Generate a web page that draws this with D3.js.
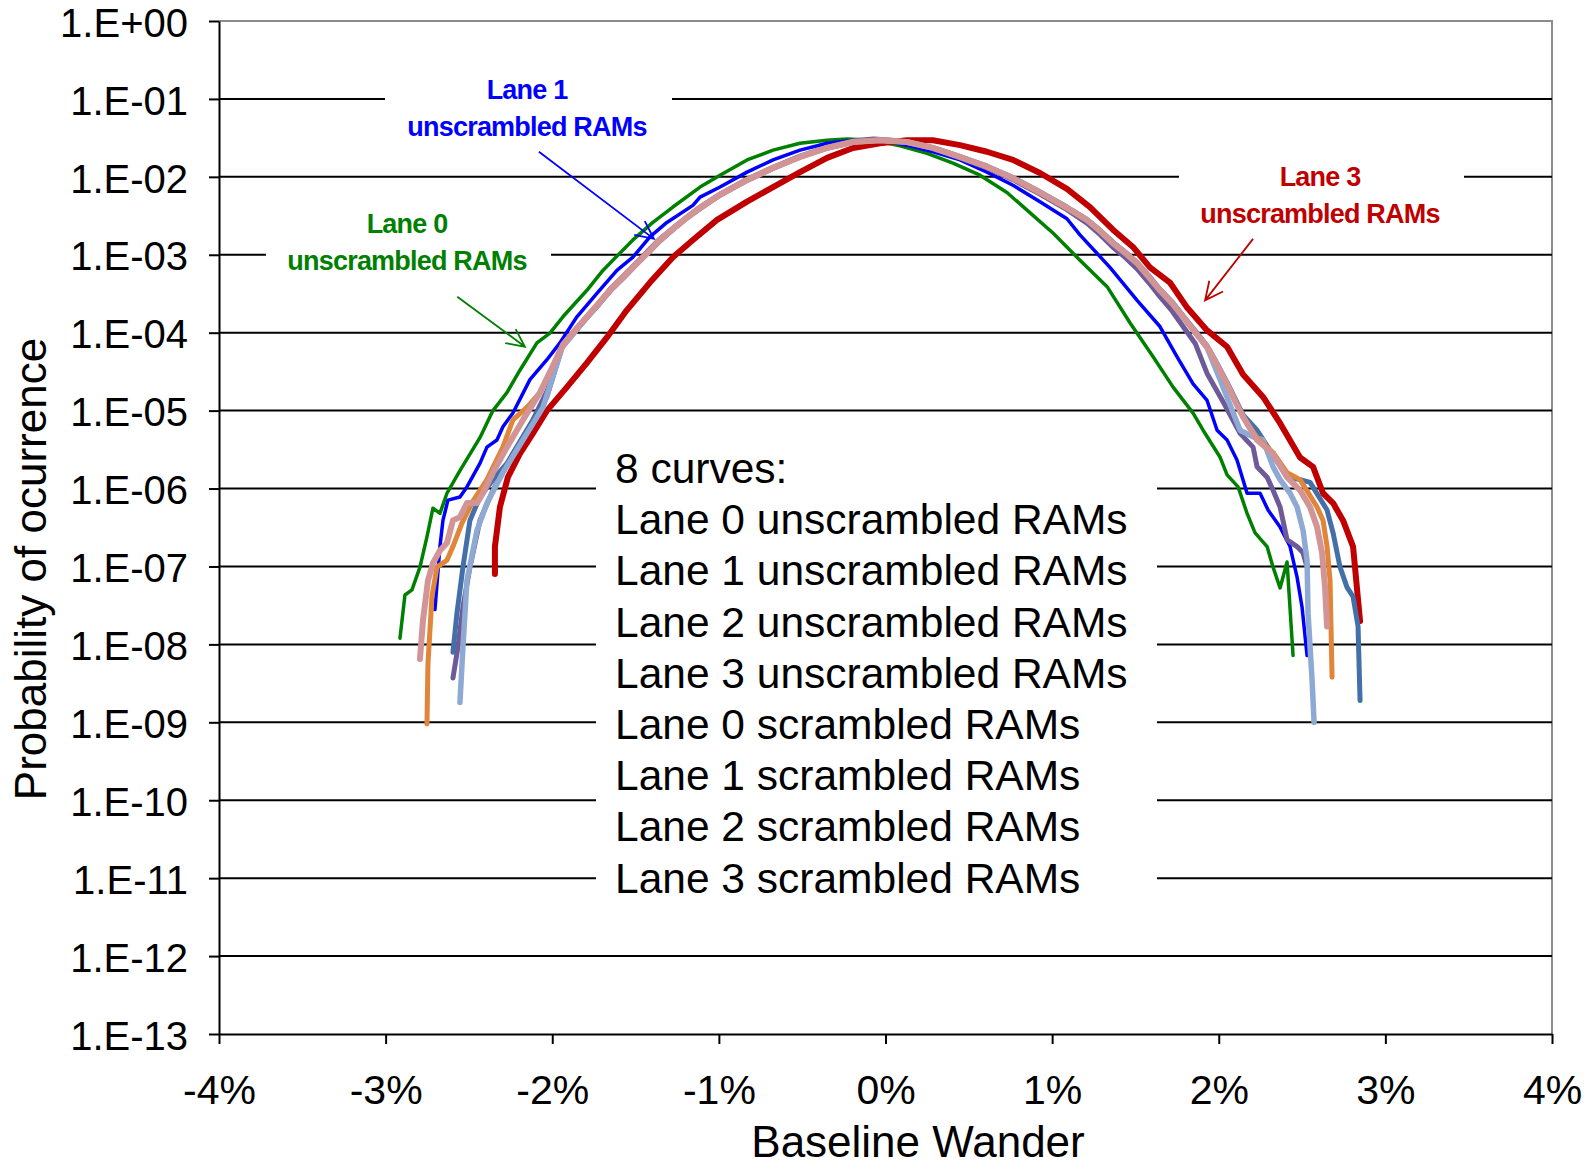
<!DOCTYPE html>
<html>
<head>
<meta charset="utf-8">
<script src="https://cdn.jsdelivr.net/npm/d3@7"></script>
<style>
  body { margin: 0; background: #fff; }
  svg { display: block; font-family: "Liberation Sans", Arial, sans-serif; }
</style>
</head>
<body>
<svg id="chart"></svg>
<script>
// x in percent of baseline wander, y = probability of occurrence
const xTicks = [-4, -3, -2, -1, 0, 1, 2, 3, 4];
const yTicks = [1e0, 1e-1, 1e-2, 1e-3, 1e-4, 1e-5, 1e-6, 1e-7, 1e-8, 1e-9, 1e-10, 1e-11, 1e-12, 1e-13];
const yTickLabels = ["1.E+00", "1.E-01", "1.E-02", "1.E-03", "1.E-04", "1.E-05", "1.E-06",
  "1.E-07", "1.E-08", "1.E-09", "1.E-10", "1.E-11", "1.E-12", "1.E-13"];

const legendLines = ["8 curves:", "Lane 0 unscrambled RAMs", "Lane 1 unscrambled RAMs",
  "Lane 2 unscrambled RAMs", "Lane 3 unscrambled RAMs", "Lane 0 scrambled RAMs",
  "Lane 1 scrambled RAMs", "Lane 2 scrambled RAMs", "Lane 3 scrambled RAMs"];

const lane0Unscrambled = [
  [-2.914, 1.2e-8], [-2.884, 4.3e-8], [-2.842, 5.0e-8], [-2.794, 9.8e-8], [-2.752, 2.4e-7],
  [-2.716, 5.6e-7], [-2.674, 4.8e-7], [-2.632, 8.7e-7], [-2.554, 1.7e-6], [-2.434, 4.5e-6],
  [-2.356, 1.0e-5], [-2.272, 1.7e-5], [-2.194, 3.3e-5], [-2.092, 7.4e-5], [-2.014, 9.9e-5],
  [-1.936, 1.6e-4], [-1.792, 3.5e-4], [-1.696, 6.3e-4], [-1.594, 1.05e-3], [-1.516, 1.55e-3],
  [-1.396, 2.6e-3], [-1.276, 4.1e-3], [-1.113, 7.4e-3], [-0.993, 1.05e-2], [-0.831, 1.65e-2],
  [-0.675, 2.2e-2], [-0.513, 2.7e-2], [-0.351, 2.95e-2], [-0.231, 3.05e-2], [-0.075, 2.95e-2],
  [0.087, 2.5e-2], [0.249, 2.0e-2], [0.405, 1.5e-2], [0.567, 1.05e-2], [0.729, 6.3e-3],
  [0.885, 3.2e-3], [1.005, 1.9e-3], [1.167, 8.5e-4], [1.33, 3.9e-4],
  [1.468, 1.33e-4], [1.606, 4.9e-5], [1.726, 2.0e-5], [1.846, 9.3e-6], [1.906, 5.6e-6],
  [2.009, 2.5e-6], [2.05, 1.5e-6], [2.116, 1.05e-6], [2.17, 4.8e-7], [2.218, 2.7e-7],
  [2.29, 1.8e-7], [2.326, 9.8e-8], [2.368, 5.3e-8], [2.41, 1.14e-7], [2.446, 7.2e-9]
];

const lane1Unscrambled = [
  [-2.704, 2.8e-8], [-2.674, 1.8e-7], [-2.656, 3.9e-7], [-2.626, 7.1e-7], [-2.554, 7.8e-7],
  [-2.512, 1.05e-6], [-2.434, 2.1e-6], [-2.392, 3.4e-6], [-2.332, 4.2e-6], [-2.296, 6.2e-6],
  [-2.236, 9.3e-6], [-2.134, 2.5e-5], [-2.032, 4.5e-5], [-1.954, 7.4e-5], [-1.852, 1.6e-4],
  [-1.732, 3.2e-4], [-1.612, 6.3e-4], [-1.516, 9.3e-4], [-1.414, 1.7e-3], [-1.312, 2.6e-3],
  [-1.156, 4.3e-3], [-1.113, 5.5e-3], [-0.993, 7.4e-3], [-0.831, 1.15e-2], [-0.675, 1.65e-2],
  [-0.513, 2.2e-2], [-0.351, 2.7e-2], [-0.195, 2.95e-2], [-0.033, 2.95e-2], [0.129, 2.55e-2],
  [0.285, 2.1e-2], [0.447, 1.65e-2], [0.609, 1.15e-2], [0.765, 7.8e-3], [0.927, 4.8e-3],
  [1.089, 2.9e-3], [1.167, 1.8e-3], [1.347, 6.9e-4], [1.51, 2.6e-4], [1.647, 1.2e-4],
  [1.75, 4.9e-5], [1.846, 2.2e-5], [1.93, 1.35e-5], [1.99, 5.6e-6], [2.05, 4.2e-6],
  [2.11, 2.3e-6], [2.17, 8.7e-7], [2.248, 8.7e-7], [2.296, 5.3e-7], [2.368, 3.2e-7],
  [2.428, 1.8e-7], [2.47, 7.3e-8], [2.50, 3.0e-8], [2.53, 7.2e-9]
];

const lane2Unscrambled = [
  [-2.596, 3.7e-9], [-2.566, 9.2e-9], [-2.536, 3.0e-8], [-2.494, 9.8e-8], [-2.434, 3.9e-7],
  [-2.356, 9.5e-7], [-2.236, 2.8e-6], [-2.116, 7.6e-6], [-2.03, 1.8e-5], [-1.94, 6.8e-5],
  [-1.86, 1.1e-4], [-1.792, 1.6e-4], [-1.72, 2.4e-4], [-1.654, 3.6e-4], [-1.57, 5.4e-4],
  [-1.492, 8.0e-4], [-1.42, 1.15e-3], [-1.354, 1.6e-3], [-1.27, 2.25e-3], [-1.192, 3.05e-3],
  [-1.113, 4.1e-3], [-0.993, 6.0e-3], [-0.831, 9.3e-3], [-0.675, 1.33e-2], [-0.513, 1.85e-2],
  [-0.351, 2.4e-2], [-0.195, 2.9e-2], [-0.07, 3.05e-2], [0.04, 2.95e-2], [0.129, 2.75e-2],
  [0.285, 2.3e-2], [0.447, 1.75e-2], [0.609, 1.3e-2], [0.765, 9.2e-3], [0.927, 6.0e-3],
  [1.089, 3.8e-3], [1.209, 2.55e-3], [1.29, 1.8e-3], [1.365, 1.25e-3], [1.44, 9.2e-4],
  [1.51, 6.6e-4], [1.58, 4.4e-4], [1.647, 2.9e-4], [1.72, 1.9e-4], [1.786, 1.2e-4],
  [1.86, 7.2e-5], [1.93, 3.0e-5], [2.026, 1.3e-5], [2.128, 5.1e-6], [2.206, 3.4e-6],
  [2.23, 1.9e-6], [2.29, 1.4e-6], [2.326, 9.5e-7], [2.368, 5.8e-7], [2.41, 2.2e-7],
  [2.47, 1.8e-7], [2.506, 1.5e-7], [2.53, 9.8e-8]
];

const lane3Unscrambled = [
  [-2.344, 8.0e-8], [-2.344, 1.8e-7], [-2.314, 5.8e-7], [-2.266, 1.4e-6], [-2.194, 2.8e-6],
  [-2.116, 5.1e-6], [-2.032, 1.0e-5], [-1.912, 2.0e-5], [-1.792, 4.1e-5], [-1.672, 8.7e-5],
  [-1.552, 1.95e-4], [-1.414, 4.4e-4], [-1.276, 9.3e-4], [-1.156, 1.55e-3], [-1.011, 2.8e-3],
  [-0.831, 4.8e-3], [-0.675, 7.4e-3], [-0.513, 1.15e-2], [-0.351, 1.75e-2], [-0.195, 2.35e-2],
  [-0.033, 2.7e-2], [0.129, 2.95e-2], [0.285, 2.95e-2], [0.447, 2.55e-2], [0.609, 2.1e-2],
  [0.765, 1.65e-2], [0.927, 1.12e-2], [1.089, 7.0e-3], [1.227, 4.1e-3],
  [1.365, 2.1e-3], [1.485, 1.26e-3], [1.587, 6.9e-4], [1.707, 4.4e-4], [1.81, 2.1e-4],
  [1.93, 1.07e-4], [2.05, 6.6e-5], [2.146, 2.9e-5], [2.266, 1.5e-5], [2.368, 6.9e-6],
  [2.488, 2.5e-6], [2.566, 1.9e-6], [2.626, 8.7e-7], [2.686, 6.5e-7], [2.746, 3.9e-7],
  [2.806, 1.8e-7], [2.848, 2.0e-8]
];

const lane0Scrambled = [
  [-2.596, 7.9e-9], [-2.572, 2.5e-8], [-2.536, 9.8e-8], [-2.494, 3.9e-7], [-2.434, 7.8e-7],
  [-2.356, 1.3e-6], [-2.272, 2.1e-6], [-2.152, 5.6e-6], [-2.032, 1.5e-5], [-1.94, 6.6e-5],
  [-1.86, 1.05e-4], [-1.792, 1.55e-4], [-1.72, 2.3e-4], [-1.654, 3.4e-4], [-1.57, 5.1e-4],
  [-1.492, 7.6e-4], [-1.42, 1.08e-3], [-1.354, 1.5e-3], [-1.27, 2.15e-3], [-1.192, 2.95e-3],
  [-1.113, 3.9e-3], [-0.993, 5.8e-3], [-0.831, 9.0e-3], [-0.675, 1.28e-2], [-0.513, 1.8e-2],
  [-0.351, 2.33e-2], [-0.195, 2.8e-2], [-0.033, 2.95e-2], [0.129, 2.8e-2], [0.285, 2.37e-2],
  [0.447, 1.82e-2], [0.609, 1.37e-2], [0.765, 9.8e-3], [0.927, 6.4e-3], [1.089, 4.1e-3],
  [1.209, 2.85e-3], [1.29, 2.05e-3], [1.365, 1.45e-3], [1.44, 1.08e-3], [1.51, 8.0e-4],
  [1.58, 5.4e-4], [1.647, 3.6e-4], [1.72, 2.5e-4], [1.786, 1.65e-4], [1.86, 1.05e-4],
  [1.93, 6.8e-5], [1.99, 4.0e-5], [2.05, 2.3e-5], [2.146, 8.8e-6], [2.23, 5.6e-6],
  [2.33, 2.6e-6], [2.41, 1.4e-6], [2.488, 1.3e-6], [2.548, 1.2e-6], [2.65, 5.3e-7],
  [2.686, 2.7e-7], [2.728, 9.8e-8], [2.77, 5.4e-8], [2.806, 4.1e-8], [2.836, 1.7e-8],
  [2.848, 1.9e-9]
];

const lane1Scrambled = [
  [-2.554, 1.8e-9], [-2.536, 9.2e-9], [-2.512, 6.6e-8], [-2.452, 2.9e-7], [-2.392, 6.5e-7],
  [-2.296, 1.6e-6], [-2.176, 4.2e-6], [-2.056, 1.1e-5], [-1.94, 6.5e-5], [-1.86, 1.05e-4],
  [-1.792, 1.6e-4], [-1.72, 2.35e-4], [-1.654, 3.5e-4], [-1.57, 5.2e-4], [-1.492, 7.7e-4],
  [-1.42, 1.1e-3], [-1.354, 1.55e-3], [-1.27, 2.2e-3], [-1.192, 3.0e-3], [-1.113, 4.0e-3],
  [-0.993, 5.9e-3], [-0.831, 9.1e-3], [-0.675, 1.3e-2], [-0.513, 1.8e-2], [-0.351, 2.35e-2],
  [-0.195, 2.8e-2], [-0.033, 2.95e-2], [0.129, 2.8e-2], [0.285, 2.36e-2], [0.447, 1.81e-2],
  [0.609, 1.36e-2], [0.765, 9.7e-3], [0.927, 6.4e-3], [1.089, 4.0e-3], [1.209, 2.8e-3],
  [1.29, 2.0e-3], [1.365, 1.42e-3], [1.44, 1.05e-3], [1.51, 7.8e-4], [1.58, 5.2e-4],
  [1.647, 3.5e-4], [1.72, 2.4e-4], [1.786, 1.6e-4], [1.86, 1.0e-4], [1.93, 6.4e-5],
  [2.008, 2.5e-5], [2.128, 5.6e-6], [2.206, 4.6e-6], [2.266, 4.2e-6], [2.326, 1.9e-6],
  [2.368, 1.3e-6], [2.428, 8.7e-7], [2.47, 5.8e-7], [2.506, 2.9e-7], [2.53, 1.2e-7],
  [2.536, 2.5e-8], [2.56, 3.5e-9], [2.572, 1.0e-9]
];

const lane2Scrambled = [
  [-2.752, 9.5e-10], [-2.746, 5.6e-9], [-2.722, 4.1e-8], [-2.692, 9.8e-8], [-2.632, 1.2e-7],
  [-2.596, 1.8e-7], [-2.542, 3.6e-7], [-2.476, 6.9e-7], [-2.392, 1.3e-6], [-2.296, 3.4e-6],
  [-2.236, 7.6e-6], [-2.152, 1.1e-5], [-2.074, 1.7e-5], [-2.0, 3.5e-5], [-1.936, 6.9e-5],
  [-1.86, 1.08e-4], [-1.792, 1.6e-4], [-1.72, 2.4e-4], [-1.654, 3.5e-4], [-1.57, 5.2e-4],
  [-1.492, 7.8e-4], [-1.42, 1.1e-3], [-1.354, 1.55e-3], [-1.27, 2.2e-3], [-1.192, 3.0e-3],
  [-1.113, 4.0e-3], [-0.993, 5.9e-3], [-0.831, 9.1e-3], [-0.675, 1.3e-2], [-0.513, 1.8e-2],
  [-0.351, 2.35e-2], [-0.195, 2.8e-2], [-0.033, 2.95e-2], [0.129, 2.8e-2], [0.285, 2.35e-2],
  [0.447, 1.8e-2], [0.609, 1.35e-2], [0.765, 9.6e-3], [0.927, 6.3e-3], [1.089, 4.0e-3],
  [1.209, 2.8e-3], [1.29, 2.0e-3], [1.365, 1.4e-3], [1.44, 1.05e-3], [1.51, 7.8e-4],
  [1.58, 5.2e-4], [1.647, 3.5e-4], [1.72, 2.4e-4], [1.786, 1.6e-4], [1.86, 1.0e-4],
  [1.93, 6.6e-5], [1.99, 3.8e-5], [2.05, 2.2e-5], [2.10, 1.3e-5], [2.146, 8.3e-6],
  [2.23, 4.5e-6], [2.326, 2.9e-6], [2.41, 1.6e-6], [2.488, 1.3e-6], [2.59, 5.8e-7],
  [2.626, 3.9e-7], [2.65, 1.8e-7], [2.668, 6.6e-8], [2.68, 3.8e-9]
];

const lane3Scrambled = [
  [-2.794, 6.5e-9], [-2.776, 2.0e-8], [-2.746, 6.6e-8], [-2.716, 1.1e-7], [-2.674, 1.6e-7],
  [-2.632, 2.0e-7], [-2.596, 3.9e-7], [-2.554, 4.3e-7], [-2.512, 6.5e-7], [-2.452, 6.5e-7],
  [-2.416, 8.7e-7], [-2.356, 1.6e-6], [-2.272, 3.4e-6], [-2.176, 7.6e-6], [-2.074, 1.7e-5],
  [-2.0, 3.6e-5], [-1.936, 7.0e-5], [-1.86, 1.1e-4], [-1.792, 1.6e-4], [-1.72, 2.4e-4],
  [-1.654, 3.5e-4], [-1.57, 5.3e-4], [-1.492, 7.8e-4], [-1.42, 1.1e-3], [-1.354, 1.55e-3],
  [-1.27, 2.2e-3], [-1.192, 3.0e-3], [-1.113, 4.0e-3], [-0.993, 5.9e-3], [-0.831, 9.1e-3],
  [-0.675, 1.3e-2], [-0.513, 1.8e-2], [-0.351, 2.35e-2], [-0.195, 2.8e-2], [-0.033, 2.95e-2],
  [0.129, 2.8e-2], [0.285, 2.35e-2], [0.447, 1.8e-2], [0.609, 1.35e-2], [0.765, 9.6e-3],
  [0.927, 6.3e-3], [1.089, 4.0e-3], [1.209, 2.8e-3], [1.29, 2.0e-3], [1.365, 1.4e-3],
  [1.44, 1.05e-3], [1.51, 7.8e-4], [1.58, 5.2e-4], [1.647, 3.5e-4], [1.72, 2.4e-4],
  [1.786, 1.6e-4], [1.86, 1.0e-4], [1.93, 6.6e-5], [1.99, 3.8e-5], [2.05, 2.2e-5],
  [2.10, 1.3e-5], [2.146, 8.3e-6], [2.23, 4.2e-6], [2.326, 2.8e-6], [2.41, 1.4e-6],
  [2.488, 9.5e-7], [2.548, 5.8e-7], [2.59, 3.2e-7], [2.62, 1.5e-7], [2.638, 5.4e-8],
  [2.65, 1.7e-8]
];

// drawing order = Excel series order, last one on top
const series = [
  { data: lane0Unscrambled, color: "#008000", width: 3.5 },
  { data: lane1Unscrambled, color: "#0000ff", width: 3.5 },
  { data: lane2Unscrambled, color: "#6e5a98", width: 5 },
  { data: lane3Unscrambled, color: "#c00000", width: 6 },
  { data: lane0Scrambled, color: "#4470a9", width: 5 },
  { data: lane1Scrambled, color: "#8eaad4", width: 5.5 },
  { data: lane2Scrambled, color: "#e0853a", width: 5 },
  { data: lane3Scrambled, color: "#d29494", width: 6 }
];

const width = 1594, height = 1167;
const margin = { top: 21, right: 42, bottom: 133, left: 219 };
const innerW = width - margin.left - margin.right;
const innerH = height - margin.top - margin.bottom;

const svg = d3.select("#chart").attr("width", width).attr("height", height);
svg.append("rect").attr("width", width).attr("height", height).attr("fill", "#fff");

const x = d3.scaleLinear().domain([-4, 4]).range([0, innerW]);
const y = d3.scaleLog().domain([1e-13, 1]).range([innerH, 0]);

const g = svg.append("g").attr("transform", `translate(${margin.left},${margin.top})`);

// plot frame (grey top/right like Excel)
g.append("path")
  .attr("d", `M0,0H${innerW}V${innerH}`)
  .attr("fill", "none").attr("stroke", "#8c8c8c").attr("stroke-width", 2);

// gridlines
g.append("g")
  .selectAll("line")
  .data(yTicks.slice(1, -1))
  .join("line")
  .attr("x1", 0).attr("x2", innerW)
  .attr("y1", (d) => y(d)).attr("y2", (d) => y(d))
  .attr("stroke", "#000").attr("stroke-width", 2);

// white text boxes that sit over the gridlines
const boxes = [
  { x: 385, y: 68, w: 287, h: 78 },
  { x: 266, y: 198, w: 285, h: 82 },
  { x: 1179, y: 152, w: 285, h: 82 },
  { x: 596, y: 440, w: 561, h: 462 }
];
svg.append("g").selectAll("rect").data(boxes).join("rect")
  .attr("x", (d) => d.x).attr("y", (d) => d.y)
  .attr("width", (d) => d.w).attr("height", (d) => d.h)
  .attr("fill", "#fff");

// curves
const line = d3.line().x((d) => x(d[0])).y((d) => y(d[1]));
g.append("g")
  .selectAll("path")
  .data(series)
  .join("path")
  .attr("d", (d) => line(d.data))
  .attr("fill", "none")
  .attr("stroke", (d) => d.color)
  .attr("stroke-width", (d) => d.width)
  .attr("stroke-linejoin", "round")
  .attr("stroke-linecap", "round");

// axes
const yAxis = g.append("g")
  .call(d3.axisLeft(y).tickValues(yTicks).tickFormat((d, i) => yTickLabels[i])
    .tickSize(10).tickSizeOuter(0).tickPadding(21));
yAxis.select(".domain").attr("stroke", "#000").attr("stroke-width", 2);
yAxis.selectAll(".tick line").attr("stroke", "#000").attr("stroke-width", 2);
yAxis.selectAll(".tick text")
  .attr("dy", "0.38em")
  .attr("font-size", 40).attr("fill", "#000")
  .attr("font-family", "'Liberation Sans', Arial, sans-serif");

const xAxis = g.append("g")
  .attr("transform", `translate(0,${innerH})`)
  .call(d3.axisBottom(x).tickValues(xTicks).tickFormat((d) => `${d}%`)
    .tickSize(10).tickSizeOuter(0));
xAxis.select(".domain").attr("stroke", "#000").attr("stroke-width", 2);
xAxis.selectAll(".tick line").attr("stroke", "#000").attr("stroke-width", 2);
xAxis.selectAll(".tick text")
  .attr("y", 70).attr("dy", 0)
  .attr("font-size", 41).attr("fill", "#000")
  .attr("font-family", "'Liberation Sans', Arial, sans-serif");

// axis titles
svg.append("text")
  .attr("x", 918).attr("y", 1157)
  .attr("text-anchor", "middle")
  .attr("font-size", 44)
  .text("Baseline Wander");

svg.append("text")
  .attr("transform", "translate(46,569) rotate(-90)")
  .attr("text-anchor", "middle")
  .attr("font-size", 44)
  .text("Probability of ocurrence");

// legend text
svg.append("g").selectAll("text").data(legendLines).join("text")
  .attr("x", 615)
  .attr("y", (d, i) => 483 + i * 51.2)
  .attr("font-size", 42.5)
  .text((d) => d);

// callouts
const callouts = [
  { lines: ["Lane 1", "unscrambled RAMs"], cx: 527, y0: 99, color: "#0000ff",
    from: [-2.08, 2.1e-2], to: [-1.39, 1.6e-3] },
  { lines: ["Lane 0", "unscrambled RAMs"], cx: 407, y0: 233, color: "#008000",
    from: [-2.57, 2.9e-4], to: [-2.164, 6.6e-5] },
  { lines: ["Lane 3", "unscrambled RAMs"], cx: 1320, y0: 186, color: "#c00000",
    from: [2.206, 1.6e-3], to: [1.918, 2.6e-4] }
];

const ann = svg.append("g");
callouts.forEach((c) => {
  ann.append("g").selectAll("text").data(c.lines).join("text")
    .attr("x", c.cx).attr("y", (d, i) => c.y0 + i * 37)
    .attr("text-anchor", "middle")
    .attr("font-size", 27).attr("font-weight", "bold")
    .attr("letter-spacing", -0.8)
    .attr("fill", c.color)
    .text((d) => d);

  const x1 = margin.left + x(c.from[0]), y1 = margin.top + y(c.from[1]);
  const x2 = margin.left + x(c.to[0]), y2 = margin.top + y(c.to[1]);
  const a = Math.atan2(y2 - y1, x2 - x1);
  const len = 20, spread = 0.45;
  ann.append("path")
    .attr("d", `M${x1},${y1}L${x2},${y2}` +
      `M${x2 - len * Math.cos(a - spread)},${y2 - len * Math.sin(a - spread)}L${x2},${y2}` +
      `L${x2 - len * Math.cos(a + spread)},${y2 - len * Math.sin(a + spread)}`)
    .attr("fill", "none").attr("stroke", c.color).attr("stroke-width", 1.8);
});
</script>
</body>
</html>
